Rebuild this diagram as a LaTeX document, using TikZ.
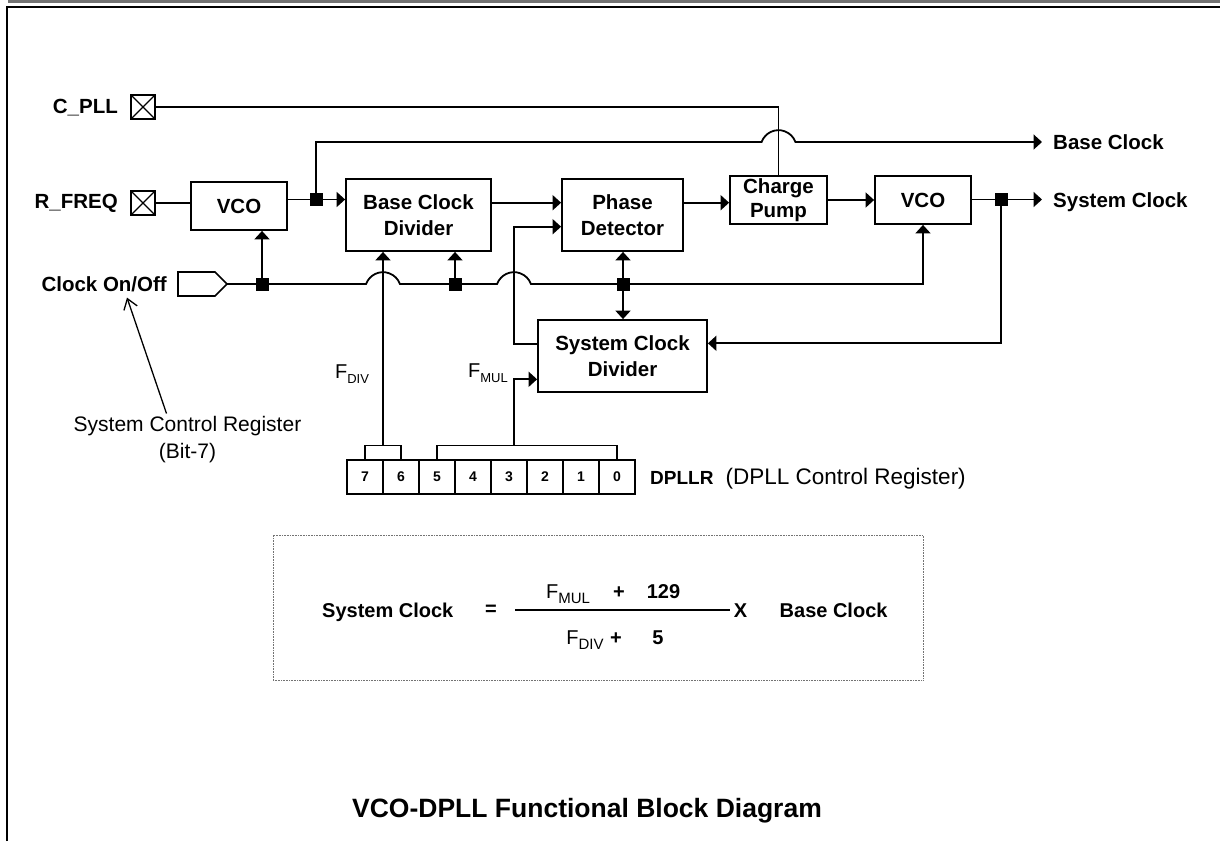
\documentclass[tikz,border=0pt]{standalone}
\usepackage{fontspec}
\setmainfont{Liberation Sans}
\usetikzlibrary{arrows.meta}
\begin{document}
\begin{tikzpicture}[x=1pt,y=-1pt,
  wire/.style={line width=1.8pt},
  arr/.style={wire, -{Triangle[length=8.5pt,width=15pt]}},
  blk/.style={draw, line width=1.8pt, inner sep=0pt, align=center,
    font=\fontsize{20.5}{25.5}\selectfont\bfseries},
  junc/.style={fill, inner sep=0pt, minimum size=13pt},
  pin/.style={draw, line width=1.4pt, inner sep=0pt, minimum size=24pt,
    path picture={\draw[line width=1.2pt]
      (path picture bounding box.north west) -- (path picture bounding box.south east)
      (path picture bounding box.north east) -- (path picture bounding box.south west);}},
  lbl/.style={inner sep=0pt, font=\fontsize{20.5}{24}\selectfont\bfseries},
  plain/.style={inner sep=0pt, font=\fontsize{21}{27}\selectfont},
  cell/.style={draw, line width=1.6pt, inner sep=0pt, minimum width=36pt,
    minimum height=34pt, font=\fontsize{14}{16}\selectfont\bfseries},
  flbl/.style={inner sep=0pt, font=\fontsize{20}{24}\selectfont\bfseries},
  fsub/.style={inner sep=0pt, font=\fontsize{20}{24}\selectfont},
]
\useasboundingbox (0,0) rectangle (1220,841);

% page frame
\fill[black!55] (7.5,0) rectangle (1220,3);
\draw[line width=2.5pt] (6.8,841) -- (6.8,6.8) -- (1220,6.8);

% input pins and their labels
\node[pin] (cpll) at (143,107) {};
\node[lbl, anchor=base east] (cpllt) at (118,113.3) {C\_PLL};
\node[pin] (rfreq) at (143,203) {};
\node[lbl, anchor=base east] (rfreqt) at (118,208.3) {R\_FREQ};

% clock enable input
\draw[line width=1.6pt] (178,272) -- (215,272) -- (227,284) -- (215,296) -- (178,296) -- cycle;
\coordinate (onoff) at (227,284);
\node[lbl, anchor=base east] (onofft) at (167,291) {Clock On/Off};

% functional blocks
\node[blk, minimum width=96pt, minimum height=48pt] (vco1) at (239,206) {VCO};
\node[blk, minimum width=145pt, minimum height=72pt] (bcd) at (418.5,215) {Base Clock\\Divider};
\node[blk, minimum width=121pt, minimum height=72pt] (pd) at (622.5,215) {Phase\\Detector};
\node[blk, minimum width=97pt, minimum height=48pt,
      font=\fontsize{20.5}{24.5}\selectfont\bfseries] (cp) at (778.5,200) {Charge\\Pump};
\node[blk, minimum width=96pt, minimum height=48pt] (vco2) at (923,200) {VCO};
\node[blk, minimum width=169pt, minimum height=72pt] (scd) at (622.5,356) {System Clock\\Divider};

% outputs
\node[lbl, anchor=base west] (bclk) at (1053,149.5) {Base Clock};
\node[lbl, anchor=base west] (sclk) at (1053,207.8) {System Clock};
\coordinate (bclkin) at (1042,142);
\coordinate (sclkin) at (1042,199.5);

% junction dots
\node[junc] (j1) at (316,199.5) {};
\node[junc] (j2) at (262,284) {};
\node[junc] (j3) at (455,284) {};
\node[junc] (j4) at (623,284) {};
\node[junc] (j5) at (1001,199.5) {};

% DPLL control register
\foreach \b [count=\i from 0] in {7,6,5,4,3,2,1,0}
  \node[cell] (r\b) at (365+36*\i,477) {\b};
\draw[line width=1.5pt] (r7.north) -- (365,445.5) -- (401,445.5) -- (r6.north);
\draw[line width=1.5pt] (r5.north) -- (437,445.5) -- (617,445.5) -- (r0.north);
\coordinate (fdivtap) at (383,445.5);
\coordinate (fmultap) at (514,445.5);
\node[inner sep=0pt, anchor=base west, font=\fontsize{19}{22}\selectfont\bfseries]
  (dpllr) at (650,484) {DPLLR};
\node[inner sep=0pt, anchor=base west, font=\fontsize{22.5}{26}\selectfont]
  (dpllrd) at (725.5,484.5) {(DPLL Control Register)};

% field labels
\node[fsub] (fdiv) at (352,374) {F\raisebox{-0.28em}{\fontsize{13}{14}\selectfont DIV}};
\node[fsub] (fmul) at (488,373) {F\raisebox{-0.28em}{\fontsize{13}{14}\selectfont MUL}};

% system control register note
\node[plain, align=center] (scr) at (187.5,440) {System Control Register\\(Bit-7)};
\draw[line width=1.3pt, -{Straight Barb[length=10pt,width=14pt]}]
  ([xshift=-21pt,yshift=3pt]scr.north) -- ([xshift=-40pt,yshift=-6pt]onofft.south east);

% wiring
\draw[wire] (cpll.east) -| (cp.north);
\draw[wire] (rfreq.east) -- (rfreq.east -| vco1.west);
\draw[wire] (vco1.east |- j1) -- (j1.center);
\draw[arr] (j1.center) -- (j1.center -| bcd.west);
\draw[arr] (j1.center) -- (316,142) -- (761.6,142)
  arc[start angle=160, end angle=20, radius=18pt] -- (bclkin);
\draw[arr] ([yshift=12.3pt]bcd.east) -- ([yshift=12.3pt]pd.west);
\draw[arr] ([yshift=12.3pt]pd.east) -- ([yshift=12.3pt]pd.east -| cp.west);
\draw[arr] (cp.east) -- (vco2.west);
\draw[wire] (vco2.east |- j5) -- (j5.center);
\draw[arr] (j5.center) -- (sclkin);
\draw[arr] (j5.center) |- ([yshift=12.7pt]scd.east);
\draw[arr] (onoff) -- (366.1,284) arc[start angle=160, end angle=20, radius=18pt]
  -- (497.1,284) arc[start angle=160, end angle=20, radius=18pt]
  -- (vco2.south |- j4) -- (vco2.south);
\draw[arr] (j2.center) -- (j2.center |- vco1.south);
\draw[arr] (j3.center) -- (j3.center |- bcd.south);
\draw[arr] (j4.center) -- (j4.center |- pd.south);
\draw[arr] (j4.center) -- (j4.center |- scd.north);
\draw[arr] ([yshift=12pt]scd.west) -- (514,344) -- (514,226.7) -- ([yshift=-11.7pt]pd.west);
\draw[arr] (fmultap) |- ([yshift=-23.3pt]scd.west);
\draw[arr] (fdivtap) -- (fdivtap |- bcd.south);

% formula
\node[draw=black!55, dash pattern=on 0.8pt off 0.8pt, line width=0.9pt,
      minimum width=650pt, minimum height=145pt, inner sep=0pt] (fbox) at (598,607.5) {};
\node[flbl, anchor=base west] (fsys) at (322,617) {System Clock};
\node[flbl] (feq) at (491,610) {=};
\draw[line width=1.7pt] (515,610) -- (730,610);
\node[fsub, anchor=base] (fnum) at (568,598)
  {F\raisebox{-0.28em}{\fontsize{15}{16}\selectfont MUL}};
\node[flbl, anchor=base] (fplus1) at (619,598) {+};
\node[flbl, anchor=base] (f129) at (663.5,598) {129};
\node[fsub, anchor=base] (fden) at (585,644)
  {F\raisebox{-0.28em}{\fontsize{15}{16}\selectfont DIV}};
\node[flbl, anchor=base] (fplus2) at (616,644) {+};
\node[flbl, anchor=base] (f5) at (658,644) {5};
\node[flbl, anchor=base] (fx) at (740.5,617) {X};
\node[flbl, anchor=base west] (fbase) at (779.5,617) {Base Clock};

% caption
\node[inner sep=0pt, anchor=base, font=\fontsize{26.5}{30}\selectfont\bfseries] (title)
  at (587,817.5) {VCO-DPLL Functional Block Diagram};
\end{tikzpicture}
\end{document}
